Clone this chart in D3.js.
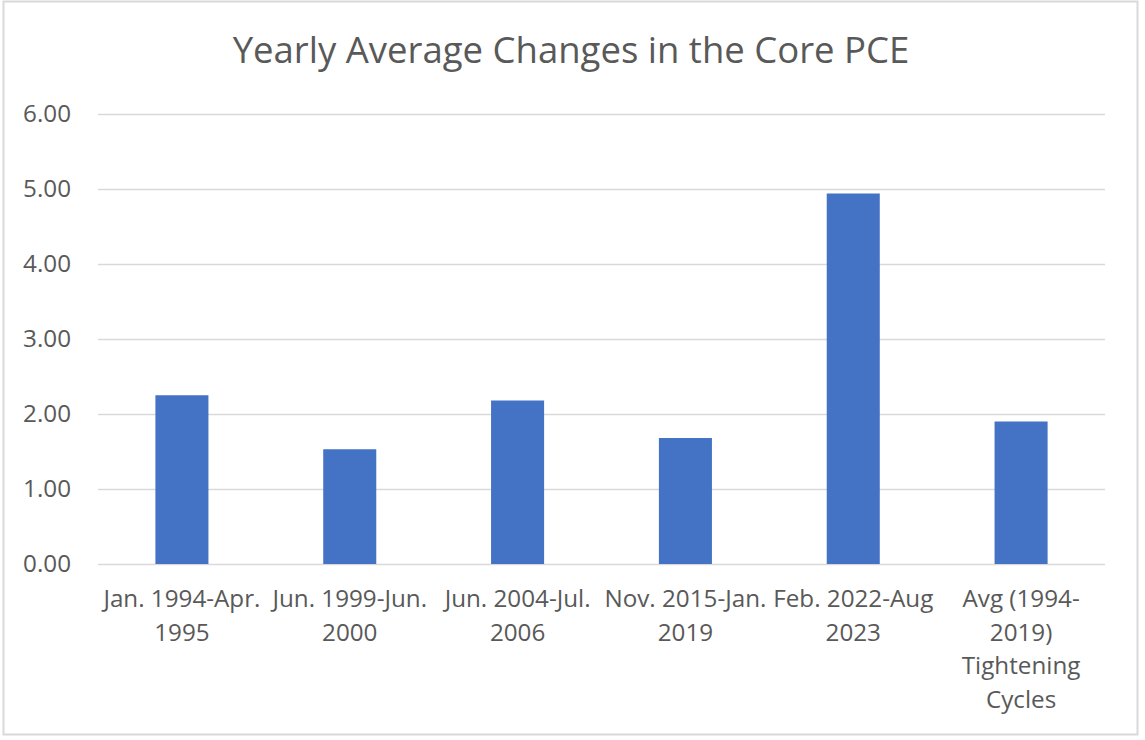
<!DOCTYPE html>
<html>
<head>
<meta charset="utf-8">
<script src="https://cdn.jsdelivr.net/npm/d3@7"></script>
<style>
  html, body { margin: 0; padding: 0; background: #fff; }
  svg { display: block; }
  text { font-family: "Open Sans", "Noto Sans", sans-serif; fill: #595959; }
</style>
</head>
<body>
<svg id="chart" width="1145" height="740"></svg>
<script>
// ---- data ----
const categories = [
  "Jan. 1994-Apr. 1995",
  "Jun. 1999-Jun. 2000",
  "Jun. 2004-Jul. 2006",
  "Nov. 2015-Jan. 2019",
  "Feb. 2022-Aug 2023",
  "Avg (1994-2019) Tightening Cycles"
];
const categoryLines = [
  ["Jan. 1994-Apr.", "1995"],
  ["Jun. 1999-Jun.", "2000"],
  ["Jun. 2004-Jul.", "2006"],
  ["Nov. 2015-Jan.", "2019"],
  ["Feb. 2022-Aug", "2023"],
  ["Avg (1994-", "2019)", "Tightening", "Cycles"]
];
const values = [2.25, 1.53, 2.18, 1.68, 4.94, 1.90];
const yTicks = [0, 1, 2, 3, 4, 5, 6];
const title = "Yearly Average Changes in the Core PCE";

// ---- layout ----
const W = 1145, H = 740;
const plot = { left: 98, right: 1105, top: 114, bottom: 564 };
const svg = d3.select("#chart");

// chart border
svg.append("rect")
  .attr("x", 3.5).attr("y", 1.5)
  .attr("width", 1134).attr("height", 733)
  .attr("fill", "#fff").attr("stroke", "#d9d9d9").attr("stroke-width", 2);

// helper: fit font size to a target width
function fitSize(str, targetW) {
  const t = svg.append("text").attr("font-size", 100).text(str);
  const w = t.node().getComputedTextLength();
  t.remove();
  return 100 * targetW / w;
}
const titleSize = fitSize(title, 677);
const labelSize = fitSize("Nov. 2015-Jan.", 162);

// title
svg.append("text")
  .attr("x", 571).attr("y", 63)
  .attr("text-anchor", "middle")
  .attr("font-size", titleSize)
  .text(title);

// scales
const x = d3.scaleBand().domain(categories).range([plot.left, plot.right]).paddingInner(0).paddingOuter(0);
const y = d3.scaleLinear().domain([0, 6]).range([plot.bottom, plot.top]);
const barW = x.step() * 0.316;

// gridlines
const grid = svg.append("g")
  .attr("transform", `translate(${plot.left},0)`)
  .call(d3.axisLeft(y).tickValues(yTicks).tickSize(-(plot.right - plot.left)).tickFormat(""));
grid.select(".domain").remove();
grid.selectAll("line").attr("stroke", "#d9d9d9").attr("stroke-width", 1.5);

// y axis labels
const yAxis = svg.append("g")
  .attr("transform", `translate(${plot.left},0)`)
  .call(d3.axisLeft(y).tickValues(yTicks).tickSize(0).tickPadding(27).tickFormat(d3.format(".2f")));
yAxis.select(".domain").remove();
yAxis.selectAll("text")
  .attr("font-size", labelSize)
  .attr("fill", "#595959")
  .style("font-family", '"Open Sans", "Noto Sans", sans-serif');

// bars
svg.append("g").selectAll("rect")
  .data(values)
  .join("rect")
  .attr("x", (d, i) => x(categories[i]) + x.bandwidth() / 2 - barW / 2)
  .attr("y", d => y(d))
  .attr("width", barW)
  .attr("height", d => y(0) - y(d))
  .attr("fill", "#4472C4");

// x axis labels
const xAxis = svg.append("g")
  .attr("transform", `translate(0,${plot.bottom})`)
  .call(d3.axisBottom(x).tickSize(0).tickFormat(""));
xAxis.select(".domain").remove();
xAxis.selectAll(".tick").each(function(d, i) {
  const g = d3.select(this);
  g.select("text").remove();
  const t = g.append("text")
    .attr("text-anchor", "middle")
    .attr("font-size", labelSize)
    .attr("fill", "#595959");
  categoryLines[i].forEach((line, k) => {
    t.append("tspan").attr("x", 0).attr("y", 43 + k * 33.5).text(line);
  });
});
</script>
</body>
</html>
